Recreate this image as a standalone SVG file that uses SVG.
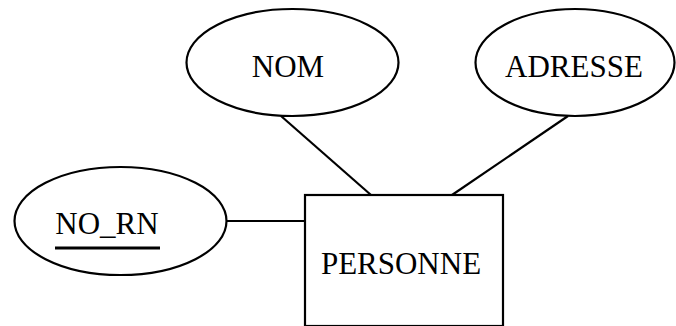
<svg xmlns="http://www.w3.org/2000/svg" width="676" height="326" viewBox="0 0 676 326">
  <style>
    .shape { fill: #ffffff; stroke: #000000; stroke-width: 2.2; }
    .link { stroke: #000000; stroke-width: 2.2; fill: none; }
    .label { font-family: "Liberation Serif", "Times New Roman", serif; font-size: 31px; fill: #000000; text-anchor: middle; }
  </style>
  <rect x="0" y="0" width="676" height="326" fill="#ffffff"/>
  <!-- connectors between the entity and its attributes -->
  <g id="connectors">
    <line class="link" x1="281" y1="116" x2="371" y2="195"/>
    <line class="link" x1="568" y1="116" x2="452" y2="195"/>
    <line class="link" x1="227" y1="221" x2="305" y2="221"/>
  </g>
  <g id="nom">
    <ellipse class="shape" cx="292.5" cy="62.5" rx="106" ry="53.5"/>
    <text class="label" x="288" y="77">NOM</text>
  </g>
  <g id="adresse">
    <ellipse class="shape" cx="575" cy="62.5" rx="99.5" ry="53.5"/>
    <text class="label" x="574" y="77">ADRESSE</text>
  </g>
  <g id="no_rn">
    <ellipse class="shape" cx="120.5" cy="221" rx="106" ry="54"/>
    <text class="label" x="107" y="234">NO_RN</text>
    <!-- key attribute underline -->
    <line x1="55" y1="248" x2="160" y2="248" stroke="#000000" stroke-width="3"/>
  </g>
  <g id="personne">
    <rect class="shape" x="305" y="195" width="198" height="131"/>
    <text class="label" x="401" y="274">PERSONNE</text>
  </g>
</svg>
